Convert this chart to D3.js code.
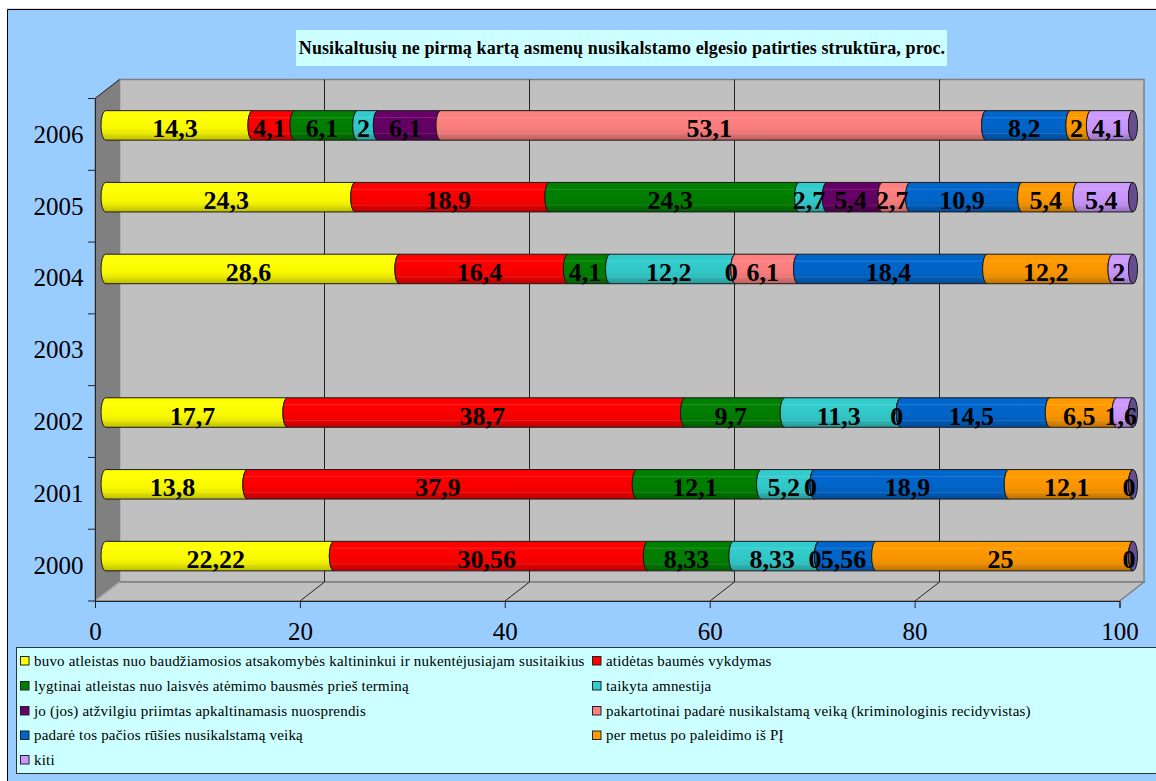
<!DOCTYPE html>
<html><head><meta charset="utf-8">
<script src="https://cdn.jsdelivr.net/npm/d3@7/dist/d3.min.js"></script>
<style>html,body{margin:0;padding:0;background:#fff}svg{display:block}text{font-family:"Liberation Serif",serif;fill:#000}</style>
</head><body><svg id="c" width="1156" height="781"></svg>
<script>
const titleText = "Nusikaltusių ne pirmą kartą asmenų nusikalstamo elgesio patirties struktūra, proc.";
const years = ["2006","2005","2004","2003","2002","2001","2000"];
const xTicks = [0,20,40,60,80,100];
const seriesNames = [
 "buvo atleistas nuo baudžiamosios atsakomybės kaltininkui ir nukentėjusiajam susitaikius",
 "atidėtas baumės vykdymas",
 "lygtinai atleistas nuo laisvės atėmimo bausmės prieš terminą",
 "taikyta amnestija",
 "jo (jos) atžvilgiu priimtas apkaltinamasis nuosprendis",
 "pakartotinai padarė nusikalstamą veiką (kriminologinis recidyvistas)",
 "padarė tos pačios rūšies nusikalstamą veiką",
 "per metus po paleidimo iš PĮ",
 "kiti"];
const seriesColors = ["#FFFF00","#FF0000","#008000","#33CCCC","#660066","#FF8080","#0066CC","#FF9900","#CC99FF"];
// values ordered as years above; null = no label/segment
const s1 = [14.3,24.3,28.6,null,17.7,13.8,22.22];
const s2 = [4.1,18.9,16.4,null,38.7,37.9,30.56];
const s3 = [6.1,24.3,4.1,null,9.7,12.1,8.33];
const s4 = [2,2.7,12.2,null,11.3,5.2,8.33];
const s5 = [6.1,5.4,0,null,0,0,0];
const s6 = [53.1,2.7,6.1,null,null,null,null];
const s7 = [8.2,10.9,18.4,null,14.5,18.9,5.56];
const s8 = [2,5.4,12.2,null,6.5,12.1,25];
const s9 = [4.1,5.4,2,null,1.6,0,0];
const seriesValues = [s1,s2,s3,s4,s5,s6,s7,s8,s9];
const fmt = v => String(v).replace(".",",");

const svg = d3.select("#c");
const defs = svg.append("defs");
seriesColors.forEach((c,i)=>{
  const g = defs.append("linearGradient").attr("id","g"+i).attr("x1",0).attr("x2",0).attr("y1",0).attr("y2",1);
  const base = d3.color(c), dk = k => { const o=d3.rgb(base); return d3.rgb(o.r*k,o.g*k,o.b*k).formatHex(); };
  const lt = d3.interpolateRgb(c,"#fff")(0.14);
  [[0,c],[.2,c],[.23,lt],[.27,c],[.62,dk(.97)],[.74,dk(.92)],[.77,d3.interpolateRgb(dk(.9),"#fff")(0.12)],[.8,dk(.88)],[1,dk(.74)]]
   .forEach(([o,col])=>g.append("stop").attr("offset",o).attr("stop-color",col));
});

// frame
svg.append("rect").attr("x",7).attr("y",9).attr("width",1149).attr("height",772).attr("fill","#99CCFF");
svg.append("path").attr("d","M7.5,781V9.5H1156").attr("fill","none").attr("stroke","#000");
svg.append("path").attr("d","M6,8.5H1156").attr("fill","none").attr("stroke","#ddd");

// title
svg.append("rect").attr("x",296).attr("y",30).attr("width",651).attr("height",36).attr("fill","#CCFFFF");
svg.append("text").attr("x",622).attr("y",53.5).attr("text-anchor","middle").attr("font-weight","bold").attr("font-size",18).attr("letter-spacing","0.1px").text(titleText);

// scales
const F = {l:95,r:1119.5,t:98.5,b:601}, dx=24.5, dy=-19;
const x = d3.scaleLinear().domain([0,100]).range([F.l,F.r]);
const xBar = d3.scaleLinear().domain([0,100]).range([105.5,1133]);
const y = d3.scaleBand().domain(years).range([F.t,F.b]);
const barH = 29.5, rx = 4.5, ry = barH/2;
const yc = yr => y(yr)+y.bandwidth()/2-9;

// walls
const pt = (a,b)=>a+","+b;
svg.append("rect").attr("x",F.l+dx).attr("y",F.t+dy).attr("width",F.r-F.l).attr("height",F.b-F.t).attr("fill","#C0C0C0").attr("stroke","#808080").attr("stroke-width",1.5);
svg.append("polygon").attr("points",[pt(F.l,F.b),pt(F.r,F.b),pt(F.r+dx,F.b+dy),pt(F.l+dx,F.b+dy)].join(" ")).attr("fill","#C0C0C0").attr("stroke","#808080").attr("stroke-width",1.5);
svg.append("polygon").attr("points",[pt(F.l,F.t),pt(F.l+dx,F.t+dy),pt(F.l+dx,F.b+dy),pt(F.l,F.b)].join(" ")).attr("fill","#808080").attr("stroke","#808080");
svg.append("line").attr("x1",F.l).attr("y1",F.t).attr("x2",F.l+dx).attr("y2",F.t+dy).attr("stroke","#222");
svg.append("line").attr("x1",F.l).attr("y1",F.b).attr("x2",F.l+dx).attr("y2",F.b+dy).attr("stroke","#c0c0c0");

// grid
xTicks.slice(1,-1).forEach(t=>{
  const X=Math.round(x(t));
  svg.append("path").attr("d",`M${X},${F.b}L${X+dx},${F.b+dy}V${F.t+dy}`).attr("fill","none").attr("stroke","#222");
});

// axes
const axX = svg.append("g").attr("transform",`translate(0,${F.b})`).call(d3.axisBottom(x).tickValues(xTicks).tickSize(7).tickPadding(14).tickFormat(d=>d));
axX.select(".domain").attr("stroke","#222");
axX.selectAll("line").attr("stroke","#222");
axX.selectAll("text").attr("font-size",25).attr("font-family","Liberation Serif");
const yL = svg.append("g").attr("transform",`translate(${F.l},0)`).call(d3.axisLeft(y).tickSize(0).tickPadding(11.5));
yL.select(".domain").attr("stroke","#222");
yL.selectAll("text").attr("font-size",25).attr("font-family","Liberation Serif").attr("dy","0.34em");
svg.append("g").selectAll("line").data(years.concat("end")).join("line")
  .attr("x1",F.l-7).attr("x2",F.l)
  .attr("y1",d=>d==="end"?F.b:y(d)).attr("y2",d=>d==="end"?F.b:y(d)).attr("stroke","#222");

// bars
const barsG = svg.append("g"), labelsG = svg.append("g");
years.forEach((yr,yi)=>{
  let cum = 0, any=false;
  const cy = yc(yr), yt=cy-ry, yb=cy+ry;
  seriesValues.forEach((vals,si)=>{
    const v = vals[yi];
    if(v===null) return;
    any=true;
    const a=xBar(cum), b=xBar(cum+v);
    barsG.append("path")
      .attr("d",`M${a},${yt}A${rx},${ry} 0 0 0 ${a},${yb}L${b},${yb}A${rx},${ry} 0 0 1 ${b},${yt}Z`)
      .attr("fill",`url(#g${si})`).attr("stroke","#1a1a1a").attr("stroke-width",1);
    labelsG.append("text").attr("x",xBar(cum+v/2)-4).attr("y",cy+12)
      .attr("text-anchor","middle").attr("font-weight","bold").attr("font-size",26).text(fmt(v));
    cum+=v;
  });
  if(any){
    const capC = d3.rgb(seriesColors[8]);
    barsG.append("ellipse").attr("cx",xBar(100)).attr("cy",cy).attr("rx",rx).attr("ry",ry)
      .attr("fill",d3.rgb(capC.r*.5,capC.g*.5,capC.b*.55).formatHex()).attr("stroke","#1a1a1a");
  }
});

// legend
svg.append("rect").attr("x",16.5).attr("y",647.5).attr("width",1145).attr("height",126).attr("fill","#CCFFFF").attr("stroke","#333");
const legRows=[661,686,711,735.5,760], legCols=[20.5,592.5];
seriesNames.forEach((n,i)=>{
  const cx=legCols[i%2], cy=legRows[Math.floor(i/2)];
  svg.append("rect").attr("x",cx).attr("y",cy-4.5).attr("width",8.5).attr("height",8.5).attr("fill",seriesColors[i]).attr("stroke","#222");
  svg.append("text").attr("x",cx+13.5).attr("y",cy+4.5).attr("font-size",15).attr("letter-spacing","0.2px").attr("fill","#111").text(n);
});
</script></body></html>
